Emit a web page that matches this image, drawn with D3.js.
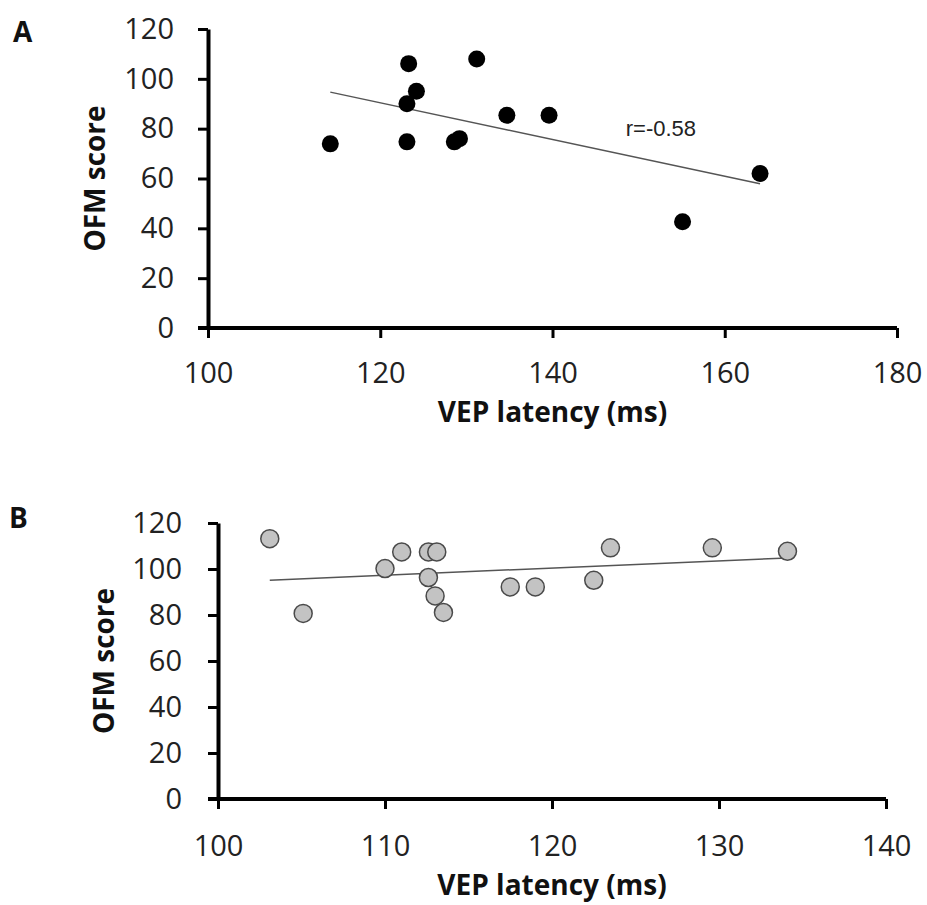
<!DOCTYPE html>
<html>
<head>
<meta charset="utf-8">
<script src="https://cdn.jsdelivr.net/npm/d3@7"></script>
<style>
  body { margin: 0; background: #fff; }
  .tick text { font-family: "Open Sans", sans-serif; font-size: 29px; fill: #222; }
  .axtitle { font-family: "Open Sans", sans-serif; font-size: 28px; font-weight: bold; fill: #111; }
  .letter { font-family: "Open Sans", sans-serif; font-size: 28px; font-weight: bold; fill: #111; }
</style>
</head>
<body>
<div id="chart"></div>
<script>
// panel A: VEP latency vs OFM score (black dots)
var latencyA = [114.2, 123.3, 124.2, 123.1, 123.1, 128.6, 129.2, 131.2, 134.7, 139.6, 164.1, 155.1];
var scoreA   = [73.9, 106.1, 95.0, 90.0, 74.7, 74.7, 76.0, 108.0, 85.4, 85.4, 62.0, 42.6];

// panel B: grey dots
var latencyB = [103.1, 105.1, 110.0, 111.0, 112.6, 113.1, 112.6, 113.0, 113.5, 117.5, 119.0, 122.5, 123.5, 129.6, 134.1];
var scoreB   = [113.2, 80.7, 100.2, 107.4, 107.4, 107.4, 96.3, 88.3, 81.1, 92.2, 92.2, 95.1, 109.2, 109.2, 107.7];

var yTicks  = [0, 20, 40, 60, 80, 100, 120];
var xTicksA = [100, 120, 140, 160, 180];
var xTicksB = [100, 110, 120, 130, 140];

var W = 927, H = 905;
var svg = d3.select("#chart").append("svg")
    .attr("width", W).attr("height", H)
    .style("background-color", "white");

// least squares fit, also gives r
function fit(xs, ys) {
  var mx = d3.mean(xs), my = d3.mean(ys);
  var sxy = 0, sxx = 0, syy = 0;
  for (var i = 0; i < xs.length; i++) {
    sxy += (xs[i] - mx) * (ys[i] - my);
    sxx += (xs[i] - mx) * (xs[i] - mx);
    syy += (ys[i] - my) * (ys[i] - my);
  }
  var b = sxy / sxx;
  return { b: b, a: my - b * mx, r: sxy / Math.sqrt(sxx * syy) };
}

function panel(opt) {
  var x = d3.scaleLinear().domain(opt.xdom).range(opt.xr);
  var y = d3.scaleLinear().domain([0, 120]).range(opt.yr);
  var g = svg.append("g");

  var ya = g.append("g")
      .attr("transform", "translate(" + opt.xr[0] + ",0)")
      .call(d3.axisLeft(y).tickValues(yTicks).tickSize(10).tickSizeOuter(0).tickPadding(opt.ypad));
  var xa = g.append("g")
      .attr("transform", "translate(0," + opt.yr[0] + ")")
      .call(d3.axisBottom(x).tickValues(opt.xticks).tickSize(10).tickSizeOuter(0).tickPadding(opt.xpad));
  [ya, xa].forEach(function(a) {
    a.select(".domain").attr("stroke", "#000").attr("stroke-width", 4);
    a.selectAll(".tick line").attr("stroke", "#000").attr("stroke-width", 3);
  });
  // extend x axis line to meet the y axis cleanly
  xa.select(".domain").attr("d", "M" + (opt.xr[0] - 10) + ",0H" + opt.xr[1]);

  var f = fit(opt.xs, opt.ys);
  var x0 = d3.min(opt.xs), x1 = d3.max(opt.xs);
  g.append("line")
      .attr("x1", x(x0)).attr("y1", y(f.a + f.b * x0))
      .attr("x2", x(x1)).attr("y2", y(f.a + f.b * x1))
      .attr("stroke", "#555").attr("stroke-width", 1.5);

  g.selectAll("circle.pt")
      .data(d3.range(opt.xs.length))
    .enter().append("circle")
      .attr("class", "pt")
      .attr("cx", function(i) { return x(opt.xs[i]); })
      .attr("cy", function(i) { return y(opt.ys[i]); })
      .attr("r", opt.r)
      .attr("fill", opt.fill)
      .attr("stroke", opt.stroke)
      .attr("stroke-width", opt.sw);

  if (opt.rlabel) {
    g.append("text")
        .attr("x", x(opt.rlabel[0])).attr("y", y(opt.rlabel[1]))
        .style("font-family", "'Liberation Sans', Arial, sans-serif")
        .style("font-size", "22px").style("fill", "#222")
        .text("r=" + f.r.toFixed(2));
  }

  g.append("text").attr("class", "axtitle")
      .attr("x", (opt.xr[0] + opt.xr[1]) / 2).attr("y", opt.xtitleY)
      .attr("text-anchor", "middle")
      .text("VEP latency (ms)");
  g.append("text").attr("class", "axtitle")
      .attr("transform", "translate(" + opt.ytitleX + "," + (opt.yr[0] + opt.yr[1]) / 2 + ") rotate(-90)")
      .attr("text-anchor", "middle")
      .text("OFM score");
  g.append("text").attr("class", "letter")
      .attr("x", opt.letterXY[0]).attr("y", opt.letterXY[1])
      .text(opt.letter);
}

panel({
  xs: latencyA, ys: scoreA, xdom: [100, 180], xticks: xTicksA,
  xr: [208, 897], yr: [328, 29], ypad: 24, xpad: 24,
  r: 8.5, fill: "#000", stroke: "#000", sw: 0,
  rlabel: [148.5, 77],
  xtitleY: 422, ytitleX: 105, letter: "A", letterXY: [13, 42]
});

panel({
  xs: latencyB, ys: scoreB, xdom: [100, 140], xticks: xTicksB,
  xr: [218, 886], yr: [799, 523], ypad: 26, xpad: 26,
  r: 9, fill: "#c3c3c3", stroke: "#4a4a4a", sw: 1.5,
  rlabel: null,
  xtitleY: 895, ytitleX: 114, letter: "B", letterXY: [9, 528]
});
</script>
</body>
</html>
